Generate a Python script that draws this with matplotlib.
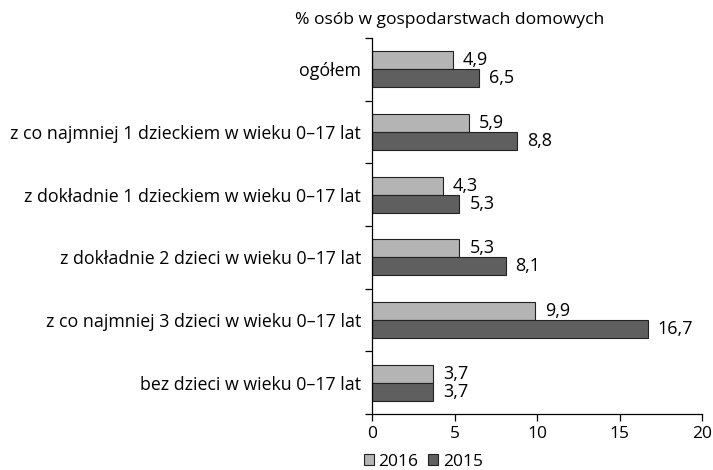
import matplotlib
matplotlib.use("Agg")
import matplotlib.pyplot as plt
import numpy as np

plt.rcParams["font.family"] = ["Open Sans", "DejaVu Sans"]

categories = [
    "ogółem",
    "z co najmniej 1 dzieckiem w wieku 0\u201317 lat",
    "z dokładnie 1 dzieckiem w wieku 0\u201317 lat",
    "z dokładnie 2 dzieci w wieku 0\u201317 lat",
    "z co najmniej 3 dzieci w wieku 0\u201317 lat",
    "bez dzieci w wieku 0\u201317 lat",
]
values_2016 = [4.9, 5.9, 4.3, 5.3, 9.9, 3.7]
values_2015 = [6.5, 8.8, 5.3, 8.1, 16.7, 3.7]
x_ticks = [0, 5, 10, 15, 20]

fig = plt.figure(figsize=(7.13, 4.70), dpi=100)
ax = fig.add_axes([372 / 713, 56 / 470, 330 / 713, 376 / 470])

n = len(categories)
pos = np.arange(n)
h = 0.287
ax.barh(pos - h / 2, values_2016, height=h, color="#b4b4b4",
        edgecolor="#222222", linewidth=0.8, label="2016")
ax.barh(pos + h / 2, values_2015, height=h, color="#5f5f5f",
        edgecolor="#222222", linewidth=0.8, label="2015")

for i, (a, b) in enumerate(zip(values_2016, values_2015)):
    ax.text(a + 0.6, i - h / 2, f"{a:.1f}".replace(".", ","),
            va="center", ha="left", fontsize=13)
    ax.text(b + 0.6, i + h / 2, f"{b:.1f}".replace(".", ","),
            va="center", ha="left", fontsize=13)

ax.set_ylim(n - 0.5, -0.5)
ax.set_xlim(0, 20)
ax.set_xticks(x_ticks)
ax.set_xticklabels([str(t) for t in x_ticks], fontsize=12.5)
ax.set_yticks(pos)
ax.set_yticklabels(categories, fontsize=12.8)
ax.set_yticks(np.arange(n + 1) - 0.5, minor=True)
ax.tick_params(axis="y", which="major", length=0, pad=8)
ax.tick_params(axis="y", which="minor", length=5, width=0.9, direction="out")
ax.tick_params(axis="x", length=5, width=0.9, direction="out", pad=4)
for s in ["top", "right"]:
    ax.spines[s].set_visible(False)
for s in ["left", "bottom"]:
    ax.spines[s].set_linewidth(0.9)

fig.text(450 / 713, 1 - 20 / 470, "% osób w gospodarstwach domowych",
         ha="center", va="center", fontsize=12.6)

fig.legend(loc="center left", bbox_to_anchor=(355 / 713, 1 - 462 / 470),
           ncol=2, frameon=False, fontsize=12.5, handlelength=0.6,
           handleheight=0.6, handletextpad=0.25, columnspacing=0.55,
           borderpad=0)

fig.savefig("out.png", dpi=100)
